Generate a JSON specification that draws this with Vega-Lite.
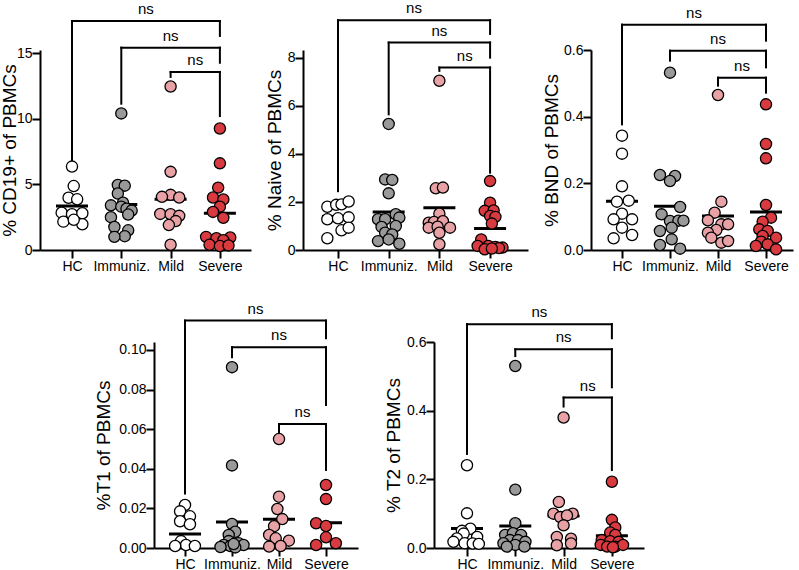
{
"$schema": "https://vega.github.io/schema/vega-lite/v6.json",
"padding": {"left": 0, "top": 1, "right": 5, "bottom": 5},
"config": {
  "font": "Liberation Sans",
  "view": {"stroke": null},
  "axis": {"domainColor": "black", "domainWidth": 2, "tickColor": "black", "tickWidth": 2, "tickSize": 8, "labelFontSize": 14, "labelColor": "black", "labelPadding": 0, "titleFontSize": 19, "titleFontWeight": "normal", "titleColor": "black", "grid": false, "labelFont": "Liberation Sans", "titleFont": "Liberation Sans"}
},
"datasets": {
"pts": [
{"p":"CD19","g":"HC","v":6.35,"s":0},{"p":"CD19","g":"HC","v":4.87,"s":0.5},{"p":"CD19","g":"HC","v":3.98,"s":-1},{"p":"CD19","g":"HC","v":3.86,"s":1.5},{"p":"CD19","g":"HC","v":2.84,"s":-3},{"p":"CD19","g":"HC","v":2.72,"s":0},{"p":"CD19","g":"HC","v":2.8,"s":3},{"p":"CD19","g":"HC","v":2.16,"s":-2.5},{"p":"CD19","g":"HC","v":1.96,"s":3},{"p":"CD19","g":"HC","v":2.3,"s":0.5},
{"p":"CD19","g":"Immuniz.","v":10.4,"s":0},{"p":"CD19","g":"Immuniz.","v":4.95,"s":-1},{"p":"CD19","g":"Immuniz.","v":4.9,"s":1},{"p":"CD19","g":"Immuniz.","v":4.3,"s":-1},{"p":"CD19","g":"Immuniz.","v":3.6,"s":0.5},{"p":"CD19","g":"Immuniz.","v":3.4,"s":-3},{"p":"CD19","g":"Immuniz.","v":3.3,"s":0},{"p":"CD19","g":"Immuniz.","v":3.15,"s":1.5},{"p":"CD19","g":"Immuniz.","v":3.0,"s":3},{"p":"CD19","g":"Immuniz.","v":2.7,"s":2},{"p":"CD19","g":"Immuniz.","v":2.5,"s":-3},{"p":"CD19","g":"Immuniz.","v":1.75,"s":-2},{"p":"CD19","g":"Immuniz.","v":1.5,"s":2},{"p":"CD19","g":"Immuniz.","v":1.05,"s":1},{"p":"CD19","g":"Immuniz.","v":1.0,"s":-2},
{"p":"CD19","g":"Mild","v":12.45,"s":0},{"p":"CD19","g":"Mild","v":5.95,"s":0},{"p":"CD19","g":"Mild","v":4.2,"s":0},{"p":"CD19","g":"Mild","v":4.05,"s":-2.5},{"p":"CD19","g":"Mild","v":4.0,"s":2.5},{"p":"CD19","g":"Mild","v":2.75,"s":-3},{"p":"CD19","g":"Mild","v":2.72,"s":0},{"p":"CD19","g":"Mild","v":2.6,"s":2.5},{"p":"CD19","g":"Mild","v":2.2,"s":1.5},{"p":"CD19","g":"Mild","v":1.9,"s":-0.5},{"p":"CD19","g":"Mild","v":0.4,"s":0},
{"p":"CD19","g":"Severe","v":9.25,"s":0},{"p":"CD19","g":"Severe","v":6.6,"s":0},{"p":"CD19","g":"Severe","v":4.75,"s":-0.5},{"p":"CD19","g":"Severe","v":4.0,"s":-2},{"p":"CD19","g":"Severe","v":3.85,"s":1},{"p":"CD19","g":"Severe","v":3.3,"s":0},{"p":"CD19","g":"Severe","v":2.9,"s":-2},{"p":"CD19","g":"Severe","v":2.45,"s":1},{"p":"CD19","g":"Severe","v":1.0,"s":-4},{"p":"CD19","g":"Severe","v":0.95,"s":3},{"p":"CD19","g":"Severe","v":0.9,"s":-1},{"p":"CD19","g":"Severe","v":0.75,"s":1},{"p":"CD19","g":"Severe","v":0.4,"s":-3},{"p":"CD19","g":"Severe","v":0.3,"s":0},{"p":"CD19","g":"Severe","v":0.35,"s":2.5},
{"p":"Naive","g":"HC","v":1.8,"s":-3},{"p":"Naive","g":"HC","v":1.88,"s":-0.5},{"p":"Naive","g":"HC","v":1.9,"s":1},{"p":"Naive","g":"HC","v":2.02,"s":3},{"p":"Naive","g":"HC","v":1.28,"s":-3},{"p":"Naive","g":"HC","v":1.32,"s":0},{"p":"Naive","g":"HC","v":1.36,"s":3},{"p":"Naive","g":"HC","v":0.82,"s":1},{"p":"Naive","g":"HC","v":0.93,"s":3},{"p":"Naive","g":"HC","v":0.49,"s":-3},
{"p":"Naive","g":"Immuniz.","v":5.25,"s":0},{"p":"Naive","g":"Immuniz.","v":2.94,"s":-1},{"p":"Naive","g":"Immuniz.","v":2.92,"s":1},{"p":"Naive","g":"Immuniz.","v":2.36,"s":0},{"p":"Naive","g":"Immuniz.","v":1.49,"s":2},{"p":"Naive","g":"Immuniz.","v":1.28,"s":-3},{"p":"Naive","g":"Immuniz.","v":1.28,"s":-1},{"p":"Naive","g":"Immuniz.","v":1.35,"s":3},{"p":"Naive","g":"Immuniz.","v":0.96,"s":-2},{"p":"Naive","g":"Immuniz.","v":1.0,"s":2},{"p":"Naive","g":"Immuniz.","v":0.72,"s":-1},{"p":"Naive","g":"Immuniz.","v":0.65,"s":1},{"p":"Naive","g":"Immuniz.","v":0.37,"s":-3},{"p":"Naive","g":"Immuniz.","v":0.44,"s":0},{"p":"Naive","g":"Immuniz.","v":0.26,"s":3},
{"p":"Naive","g":"Mild","v":7.05,"s":0},{"p":"Naive","g":"Mild","v":2.57,"s":-1},{"p":"Naive","g":"Mild","v":2.6,"s":1},{"p":"Naive","g":"Mild","v":1.51,"s":0},{"p":"Naive","g":"Mild","v":1.14,"s":-3},{"p":"Naive","g":"Mild","v":1.17,"s":-1.5},{"p":"Naive","g":"Mild","v":1.2,"s":1},{"p":"Naive","g":"Mild","v":0.93,"s":-3},{"p":"Naive","g":"Mild","v":0.97,"s":-0.5},{"p":"Naive","g":"Mild","v":0.93,"s":3},{"p":"Naive","g":"Mild","v":0.72,"s":0},{"p":"Naive","g":"Mild","v":0.24,"s":0},
{"p":"Naive","g":"Severe","v":2.87,"s":0},{"p":"Naive","g":"Severe","v":1.97,"s":0},{"p":"Naive","g":"Severe","v":1.63,"s":-1.5},{"p":"Naive","g":"Severe","v":1.65,"s":1},{"p":"Naive","g":"Severe","v":1.42,"s":0},{"p":"Naive","g":"Severe","v":1.38,"s":1.5},{"p":"Naive","g":"Severe","v":1.1,"s":0.5},{"p":"Naive","g":"Severe","v":0.44,"s":-2.5},{"p":"Naive","g":"Severe","v":0.17,"s":-3.5},{"p":"Naive","g":"Severe","v":0.17,"s":-0.5},{"p":"Naive","g":"Severe","v":0.13,"s":1.5},{"p":"Naive","g":"Severe","v":0.1,"s":3.5},{"p":"Naive","g":"Severe","v":0.03,"s":-1.5},{"p":"Naive","g":"Severe","v":0.08,"s":2.5},{"p":"Naive","g":"Severe","v":0.06,"s":0.5},
{"p":"BND","g":"HC","v":0.343,"s":0},{"p":"BND","g":"HC","v":0.289,"s":0},{"p":"BND","g":"HC","v":0.191,"s":0},{"p":"BND","g":"HC","v":0.145,"s":-1.5},{"p":"BND","g":"HC","v":0.148,"s":2},{"p":"BND","g":"HC","v":0.109,"s":0},{"p":"BND","g":"HC","v":0.092,"s":-2.5},{"p":"BND","g":"HC","v":0.092,"s":3},{"p":"BND","g":"HC","v":0.067,"s":0},{"p":"BND","g":"HC","v":0.035,"s":-2.5},{"p":"BND","g":"HC","v":0.045,"s":3},
{"p":"BND","g":"Immuniz.","v":0.532,"s":0},{"p":"BND","g":"Immuniz.","v":0.225,"s":-3},{"p":"BND","g":"Immuniz.","v":0.222,"s":1.5},{"p":"BND","g":"Immuniz.","v":0.207,"s":0},{"p":"BND","g":"Immuniz.","v":0.129,"s":3},{"p":"BND","g":"Immuniz.","v":0.107,"s":-2.5},{"p":"BND","g":"Immuniz.","v":0.087,"s":0},{"p":"BND","g":"Immuniz.","v":0.088,"s":2.5},{"p":"BND","g":"Immuniz.","v":0.088,"s":4},{"p":"BND","g":"Immuniz.","v":0.057,"s":-3},{"p":"BND","g":"Immuniz.","v":0.067,"s":0.5},{"p":"BND","g":"Immuniz.","v":0.032,"s":0.5},{"p":"BND","g":"Immuniz.","v":0.015,"s":-3},{"p":"BND","g":"Immuniz.","v":0.004,"s":3},
{"p":"BND","g":"Mild","v":0.465,"s":0},{"p":"BND","g":"Mild","v":0.145,"s":1},{"p":"BND","g":"Mild","v":0.112,"s":-1},{"p":"BND","g":"Mild","v":0.089,"s":-3},{"p":"BND","g":"Mild","v":0.077,"s":1},{"p":"BND","g":"Mild","v":0.077,"s":3},{"p":"BND","g":"Mild","v":0.06,"s":-0.5},{"p":"BND","g":"Mild","v":0.052,"s":-3},{"p":"BND","g":"Mild","v":0.037,"s":-2},{"p":"BND","g":"Mild","v":0.022,"s":1},{"p":"BND","g":"Mild","v":0.027,"s":3},
{"p":"BND","g":"Severe","v":0.437,"s":0},{"p":"BND","g":"Severe","v":0.318,"s":0},{"p":"BND","g":"Severe","v":0.275,"s":0},{"p":"BND","g":"Severe","v":0.135,"s":0},{"p":"BND","g":"Severe","v":0.097,"s":1.5},{"p":"BND","g":"Severe","v":0.085,"s":-1},{"p":"BND","g":"Severe","v":0.062,"s":-2},{"p":"BND","g":"Severe","v":0.057,"s":0.5},{"p":"BND","g":"Severe","v":0.042,"s":-1},{"p":"BND","g":"Severe","v":0.037,"s":3},{"p":"BND","g":"Severe","v":0.025,"s":-1.5},{"p":"BND","g":"Severe","v":0.012,"s":-3},{"p":"BND","g":"Severe","v":0.017,"s":0.5},{"p":"BND","g":"Severe","v":0.002,"s":3},
{"p":"T1","g":"HC","v":0.0217,"s":0},{"p":"T1","g":"HC","v":0.0185,"s":-1.5},{"p":"T1","g":"HC","v":0.016,"s":1.5},{"p":"T1","g":"HC","v":0.0135,"s":-1.5},{"p":"T1","g":"HC","v":0.012,"s":1.5},{"p":"T1","g":"HC","v":0.0035,"s":-1.2},{"p":"T1","g":"HC","v":0.0015,"s":0.3},{"p":"T1","g":"HC","v":0.001,"s":-3},{"p":"T1","g":"HC","v":0.001,"s":3},
{"p":"T1","g":"Immuniz.","v":0.0913,"s":0},{"p":"T1","g":"Immuniz.","v":0.0417,"s":0},{"p":"T1","g":"Immuniz.","v":0.0121,"s":0},{"p":"T1","g":"Immuniz.","v":0.0082,"s":1},{"p":"T1","g":"Immuniz.","v":0.0066,"s":-1},{"p":"T1","g":"Immuniz.","v":0.0035,"s":-1},{"p":"T1","g":"Immuniz.","v":0.0024,"s":2},{"p":"T1","g":"Immuniz.","v":0.0015,"s":-2.5},{"p":"T1","g":"Immuniz.","v":0.0015,"s":3.5},{"p":"T1","g":"Immuniz.","v":0.001,"s":-0.5},{"p":"T1","g":"Immuniz.","v":0.0005,"s":-3.5},{"p":"T1","g":"Immuniz.","v":0.0003,"s":1},{"p":"T1","g":"Immuniz.","v":0.002,"s":0.5},
{"p":"T1","g":"Mild","v":0.055,"s":0},{"p":"T1","g":"Mild","v":0.0259,"s":0},{"p":"T1","g":"Mild","v":0.0197,"s":-0.5},{"p":"T1","g":"Mild","v":0.0146,"s":1},{"p":"T1","g":"Mild","v":0.011,"s":-1.5},{"p":"T1","g":"Mild","v":0.0066,"s":-3},{"p":"T1","g":"Mild","v":0.0049,"s":-1},{"p":"T1","g":"Mild","v":0.0037,"s":3},{"p":"T1","g":"Mild","v":0.0007,"s":-3},{"p":"T1","g":"Mild","v":0.001,"s":0.5},
{"p":"T1","g":"Severe","v":0.0318,"s":0},{"p":"T1","g":"Severe","v":0.0247,"s":0},{"p":"T1","g":"Severe","v":0.0125,"s":-3},{"p":"T1","g":"Severe","v":0.0111,"s":0},{"p":"T1","g":"Severe","v":0.0054,"s":0},{"p":"T1","g":"Severe","v":0.0015,"s":-3},{"p":"T1","g":"Severe","v":0.0024,"s":3},
{"p":"T2","g":"HC","v":0.241,"s":0},{"p":"T2","g":"HC","v":0.101,"s":0},{"p":"T2","g":"HC","v":0.056,"s":1},{"p":"T2","g":"HC","v":0.05,"s":-1.5},{"p":"T2","g":"HC","v":0.042,"s":-1},{"p":"T2","g":"HC","v":0.032,"s":3},{"p":"T2","g":"HC","v":0.028,"s":-3},{"p":"T2","g":"HC","v":0.018,"s":-4},{"p":"T2","g":"HC","v":0.014,"s":-0.7},{"p":"T2","g":"HC","v":0.013,"s":1.7},{"p":"T2","g":"HC","v":0.012,"s":3.5},
{"p":"T2","g":"Immuniz.","v":0.53,"s":0},{"p":"T2","g":"Immuniz.","v":0.17,"s":0},{"p":"T2","g":"Immuniz.","v":0.072,"s":0},{"p":"T2","g":"Immuniz.","v":0.038,"s":-3},{"p":"T2","g":"Immuniz.","v":0.043,"s":-0.7},{"p":"T2","g":"Immuniz.","v":0.038,"s":1.7},{"p":"T2","g":"Immuniz.","v":0.023,"s":-1.6},{"p":"T2","g":"Immuniz.","v":0.023,"s":0.8},{"p":"T2","g":"Immuniz.","v":0.018,"s":3},{"p":"T2","g":"Immuniz.","v":0.014,"s":-3.5},{"p":"T2","g":"Immuniz.","v":0.009,"s":0},{"p":"T2","g":"Immuniz.","v":0.004,"s":2.7},{"p":"T2","g":"Immuniz.","v":0.004,"s":-2.5},
{"p":"T2","g":"Mild","v":0.38,"s":0},{"p":"T2","g":"Mild","v":0.134,"s":-1.4},{"p":"T2","g":"Mild","v":0.1,"s":-3},{"p":"T2","g":"Mild","v":0.1,"s":2.7},{"p":"T2","g":"Mild","v":0.09,"s":-1},{"p":"T2","g":"Mild","v":0.095,"s":1},{"p":"T2","g":"Mild","v":0.066,"s":0},{"p":"T2","g":"Mild","v":0.032,"s":-2},{"p":"T2","g":"Mild","v":0.027,"s":2.2},{"p":"T2","g":"Mild","v":0.008,"s":-2},{"p":"T2","g":"Mild","v":0.013,"s":2.2},
{"p":"T2","g":"Severe","v":0.193,"s":0},{"p":"T2","g":"Severe","v":0.082,"s":0},{"p":"T2","g":"Severe","v":0.06,"s":1},{"p":"T2","g":"Severe","v":0.045,"s":-0.5},{"p":"T2","g":"Severe","v":0.038,"s":1},{"p":"T2","g":"Severe","v":0.023,"s":-3},{"p":"T2","g":"Severe","v":0.02,"s":-0.5},{"p":"T2","g":"Severe","v":0.018,"s":2},{"p":"T2","g":"Severe","v":0.009,"s":-3.3},{"p":"T2","g":"Severe","v":0.004,"s":-1.4},{"p":"T2","g":"Severe","v":0.004,"s":1},{"p":"T2","g":"Severe","v":0.009,"s":3.3},{"p":"T2","g":"Severe","v":0.002,"s":0.3}
],
"mn": [
{"p":"CD19","g":"HC","m":3.35},{"p":"CD19","g":"Immuniz.","m":3.46},{"p":"CD19","g":"Mild","m":3.87},{"p":"CD19","g":"Severe","m":2.79},
{"p":"Naive","g":"HC","m":1.4},{"p":"Naive","g":"Immuniz.","m":1.58},{"p":"Naive","g":"Mild","m":1.76},{"p":"Naive","g":"Severe","m":0.9},
{"p":"BND","g":"HC","m":0.146},{"p":"BND","g":"Immuniz.","m":0.131},{"p":"BND","g":"Mild","m":0.102},{"p":"BND","g":"Severe","m":0.114},
{"p":"T1","g":"HC","m":0.0071},{"p":"T1","g":"Immuniz.","m":0.0131},{"p":"T1","g":"Mild","m":0.0145},{"p":"T1","g":"Severe","m":0.0128},
{"p":"T2","g":"HC","m":0.057},{"p":"T2","g":"Immuniz.","m":0.064},{"p":"T2","g":"Mild","m":0.093},{"p":"T2","g":"Severe","m":0.036}
],
"br": [
{"p":"CD19","a":"HC","b":"Severe","lv":17.44,"ea":6.55,"eb":16.3},{"p":"CD19","a":"Immuniz.","b":"Severe","lv":15.41,"ea":11.14,"eb":14.26},{"p":"CD19","a":"Mild","b":"Severe","lv":13.56,"ea":13.18,"eb":10.2},
{"p":"Naive","a":"HC","b":"Severe","lv":9.57,"ea":2.45,"eb":9.0},{"p":"Naive","a":"Immuniz.","b":"Severe","lv":8.64,"ea":5.65,"eb":8.01},{"p":"Naive","a":"Mild","b":"Severe","lv":7.6,"ea":7.46,"eb":3.22},
{"p":"BND","a":"HC","b":"Severe","lv":0.676,"ea":0.377,"eb":0.628},{"p":"BND","a":"Immuniz.","b":"Severe","lv":0.598,"ea":0.568,"eb":0.548},{"p":"BND","a":"Mild","b":"Severe","lv":0.517,"ea":0.493,"eb":0.472},
{"p":"T1","a":"HC","b":"Severe","lv":0.1148,"ea":0.0275,"eb":0.1059},{"p":"T1","a":"Immuniz.","b":"Severe","lv":0.1014,"ea":0.0963,"eb":0.0722},{"p":"T1","a":"Mild","b":"Severe","lv":0.0626,"ea":0.0576,"eb":0.0394},
{"p":"T2","a":"HC","b":"Severe","lv":0.652,"ea":0.274,"eb":0.611},{"p":"T2","a":"Immuniz.","b":"Severe","lv":0.579,"ea":0.559,"eb":0.468},{"p":"T2","a":"Mild","b":"Severe","lv":0.438,"ea":0.412,"eb":0.227}
]
},
"spacing": 28,
"vconcat": [
{"spacing": 14, "hconcat": [
{"width": 211, "height": 200, "layer": [
 {"data": {"name": "br"}, "transform": [{"filter": "datum.p=='CD19'"},{"calculate": "indexof(['HC','Immuniz.','Mild','Severe'],datum.a)+1","as": "xa"},{"calculate": "indexof(['HC','Immuniz.','Mild','Severe'],datum.b)+1","as": "xb"},{"calculate": "(datum.xa+datum.xb)/2","as": "xm"}],
  "layer": [
   {"mark": {"type": "rule","color": "black","strokeWidth": 2,"strokeCap": "square"},"encoding": {"x": {"field": "xa","type": "quantitative"},"x2": {"field": "xb"},"y": {"field": "lv","type": "quantitative"}}},
   {"mark": {"type": "rule","color": "black","strokeWidth": 2,"strokeCap": "square"},"encoding": {"x": {"field": "xa","type": "quantitative"},"y": {"field": "lv","type": "quantitative"},"y2": {"field": "ea"}}},
   {"mark": {"type": "rule","color": "black","strokeWidth": 2,"strokeCap": "square"},"encoding": {"x": {"field": "xb","type": "quantitative"},"y": {"field": "lv","type": "quantitative"},"y2": {"field": "eb"}}},
   {"mark": {"type": "text","text": "ns","fontSize": 15,"dy": -12,"baseline": "middle","color": "black"},"encoding": {"x": {"field": "xm","type": "quantitative"},"y": {"field": "lv","type": "quantitative"}}}
  ]},
 {"data": {"name": "mn"}, "transform": [{"filter": "datum.p=='CD19'"},{"calculate": "indexof(['HC','Immuniz.','Mild','Severe'],datum.g)+1","as": "gx"}],
  "mark": {"type": "tick","orient": "horizontal","size": 32,"thickness": 3,"color": "black","opacity": 1},
  "encoding": {"x": {"field": "gx","type": "quantitative"},"y": {"field": "m","type": "quantitative"}}},
 {"data": {"name": "pts"}, "transform": [{"filter": "datum.p=='CD19'"},{"calculate": "indexof(['HC','Immuniz.','Mild','Severe'],datum.g)+1","as": "gx"},{"calculate": "datum.gx+datum.s*0.07","as": "px"}],
  "mark": {"type": "point","shape": "circle","filled": true,"size": 125,"stroke": "black","strokeWidth": 1.3,"opacity": 1},
  "encoding": {
   "x": {"field": "px","type": "quantitative","scale": {"domain": [0.351,4.631],"nice": false,"zero": false},"axis": {"values": [1,2,3,4],"labelExpr": "['','HC','Immuniz.','Mild','Severe'][datum.value]","title": null,"labelPadding": 1,"labelOverlap": false,"labelFlush": false}},
   "y": {"field": "v","type": "quantitative","scale": {"domain": [0,15.23],"nice": false},"axis": {"values": [0,5,10,15],"format": "d","title": "% CD19+ of PBMCs","titlePadding": -3}},
   "fill": {"field": "g","type": "nominal","scale": {"domain": ["HC","Immuniz.","Mild","Severe"],"range": ["#ffffff","#999999","#e8a1a5","#d93a3f"]},"legend": null}
  }}
]},
{"width": 225, "height": 200, "layer": [
 {"data": {"name": "br"}, "transform": [{"filter": "datum.p=='Naive'"},{"calculate": "indexof(['HC','Immuniz.','Mild','Severe'],datum.a)+1","as": "xa"},{"calculate": "indexof(['HC','Immuniz.','Mild','Severe'],datum.b)+1","as": "xb"},{"calculate": "(datum.xa+datum.xb)/2","as": "xm"}],
  "layer": [
   {"mark": {"type": "rule","color": "black","strokeWidth": 2,"strokeCap": "square"},"encoding": {"x": {"field": "xa","type": "quantitative"},"x2": {"field": "xb"},"y": {"field": "lv","type": "quantitative"}}},
   {"mark": {"type": "rule","color": "black","strokeWidth": 2,"strokeCap": "square"},"encoding": {"x": {"field": "xa","type": "quantitative"},"y": {"field": "lv","type": "quantitative"},"y2": {"field": "ea"}}},
   {"mark": {"type": "rule","color": "black","strokeWidth": 2,"strokeCap": "square"},"encoding": {"x": {"field": "xb","type": "quantitative"},"y": {"field": "lv","type": "quantitative"},"y2": {"field": "eb"}}},
   {"mark": {"type": "text","text": "ns","fontSize": 15,"dy": -12,"baseline": "middle","color": "black"},"encoding": {"x": {"field": "xm","type": "quantitative"},"y": {"field": "lv","type": "quantitative"}}}
  ]},
 {"data": {"name": "mn"}, "transform": [{"filter": "datum.p=='Naive'"},{"calculate": "indexof(['HC','Immuniz.','Mild','Severe'],datum.g)+1","as": "gx"}],
  "mark": {"type": "tick","orient": "horizontal","size": 32,"thickness": 3,"color": "black","opacity": 1},
  "encoding": {"x": {"field": "gx","type": "quantitative"},"y": {"field": "m","type": "quantitative"}}},
 {"data": {"name": "pts"}, "transform": [{"filter": "datum.p=='Naive'"},{"calculate": "indexof(['HC','Immuniz.','Mild','Severe'],datum.g)+1","as": "gx"},{"calculate": "datum.gx+datum.s*0.07","as": "px"}],
  "mark": {"type": "point","shape": "circle","filled": true,"size": 125,"stroke": "black","strokeWidth": 1.3,"opacity": 1},
  "encoding": {
   "x": {"field": "px","type": "quantitative","scale": {"domain": [0.31,4.748],"nice": false,"zero": false},"axis": {"values": [1,2,3,4],"labelExpr": "['','HC','Immuniz.','Mild','Severe'][datum.value]","title": null,"labelPadding": 1,"labelOverlap": false,"labelFlush": false}},
   "y": {"field": "v","type": "quantitative","scale": {"domain": [0,8.33],"nice": false},"axis": {"values": [0,2,4,6,8],"format": "d","title": "% Naive of PBMCs","titlePadding": 3}},
   "fill": {"field": "g","type": "nominal","scale": {"domain": ["HC","Immuniz.","Mild","Severe"],"range": ["#ffffff","#999999","#e8a1a5","#d93a3f"]},"legend": null}
  }}
]},
{"width": 202, "height": 200, "layer": [
 {"data": {"name": "br"}, "transform": [{"filter": "datum.p=='BND'"},{"calculate": "indexof(['HC','Immuniz.','Mild','Severe'],datum.a)+1","as": "xa"},{"calculate": "indexof(['HC','Immuniz.','Mild','Severe'],datum.b)+1","as": "xb"},{"calculate": "(datum.xa+datum.xb)/2","as": "xm"}],
  "layer": [
   {"mark": {"type": "rule","color": "black","strokeWidth": 2,"strokeCap": "square"},"encoding": {"x": {"field": "xa","type": "quantitative"},"x2": {"field": "xb"},"y": {"field": "lv","type": "quantitative"}}},
   {"mark": {"type": "rule","color": "black","strokeWidth": 2,"strokeCap": "square"},"encoding": {"x": {"field": "xa","type": "quantitative"},"y": {"field": "lv","type": "quantitative"},"y2": {"field": "ea"}}},
   {"mark": {"type": "rule","color": "black","strokeWidth": 2,"strokeCap": "square"},"encoding": {"x": {"field": "xb","type": "quantitative"},"y": {"field": "lv","type": "quantitative"},"y2": {"field": "eb"}}},
   {"mark": {"type": "text","text": "ns","fontSize": 15,"dy": -12,"baseline": "middle","color": "black"},"encoding": {"x": {"field": "xm","type": "quantitative"},"y": {"field": "lv","type": "quantitative"}}}
  ]},
 {"data": {"name": "mn"}, "transform": [{"filter": "datum.p=='BND'"},{"calculate": "indexof(['HC','Immuniz.','Mild','Severe'],datum.g)+1","as": "gx"}],
  "mark": {"type": "tick","orient": "horizontal","size": 32,"thickness": 3,"color": "black","opacity": 1},
  "encoding": {"x": {"field": "gx","type": "quantitative"},"y": {"field": "m","type": "quantitative"}}},
 {"data": {"name": "pts"}, "transform": [{"filter": "datum.p=='BND'"},{"calculate": "indexof(['HC','Immuniz.','Mild','Severe'],datum.g)+1","as": "gx"},{"calculate": "datum.gx+datum.s*0.07","as": "px"}],
  "mark": {"type": "point","shape": "circle","filled": true,"size": 125,"stroke": "black","strokeWidth": 1.3,"opacity": 1},
  "encoding": {
   "x": {"field": "px","type": "quantitative","scale": {"domain": [0.354,4.5625],"nice": false,"zero": false},"axis": {"values": [1,2,3,4],"labelExpr": "['','HC','Immuniz.','Mild','Severe'][datum.value]","title": null,"labelPadding": 1,"labelOverlap": false,"labelFlush": false}},
   "y": {"field": "v","type": "quantitative","scale": {"domain": [0,0.6],"nice": false},"axis": {"values": [0,0.2,0.4,0.6],"format": ".1f","title": "% BND of PBMCs","titlePadding": 2.5}},
   "fill": {"field": "g","type": "nominal","scale": {"domain": ["HC","Immuniz.","Mild","Severe"],"range": ["#ffffff","#999999","#e8a1a5","#d93a3f"]},"legend": null}
  }}
]}
]},
{"spacing": 26, "hconcat": [
{"width": 28, "height": 206, "data": {"values": [{}]}, "mark": {"type": "point","opacity": 0}, "encoding": {}},
{"width": 204, "height": 206, "layer": [
 {"data": {"name": "br"}, "transform": [{"filter": "datum.p=='T1'"},{"calculate": "indexof(['HC','Immuniz.','Mild','Severe'],datum.a)+1","as": "xa"},{"calculate": "indexof(['HC','Immuniz.','Mild','Severe'],datum.b)+1","as": "xb"},{"calculate": "(datum.xa+datum.xb)/2","as": "xm"}],
  "layer": [
   {"mark": {"type": "rule","color": "black","strokeWidth": 2,"strokeCap": "square"},"encoding": {"x": {"field": "xa","type": "quantitative"},"x2": {"field": "xb"},"y": {"field": "lv","type": "quantitative"}}},
   {"mark": {"type": "rule","color": "black","strokeWidth": 2,"strokeCap": "square"},"encoding": {"x": {"field": "xa","type": "quantitative"},"y": {"field": "lv","type": "quantitative"},"y2": {"field": "ea"}}},
   {"mark": {"type": "rule","color": "black","strokeWidth": 2,"strokeCap": "square"},"encoding": {"x": {"field": "xb","type": "quantitative"},"y": {"field": "lv","type": "quantitative"},"y2": {"field": "eb"}}},
   {"mark": {"type": "text","text": "ns","fontSize": 15,"dy": -12,"baseline": "middle","color": "black"},"encoding": {"x": {"field": "xm","type": "quantitative"},"y": {"field": "lv","type": "quantitative"}}}
  ]},
 {"data": {"name": "mn"}, "transform": [{"filter": "datum.p=='T1'"},{"calculate": "indexof(['HC','Immuniz.','Mild','Severe'],datum.g)+1","as": "gx"}],
  "mark": {"type": "tick","orient": "horizontal","size": 32,"thickness": 3,"color": "black","opacity": 1},
  "encoding": {"x": {"field": "gx","type": "quantitative"},"y": {"field": "m","type": "quantitative"}}},
 {"data": {"name": "pts"}, "transform": [{"filter": "datum.p=='T1'"},{"calculate": "indexof(['HC','Immuniz.','Mild','Severe'],datum.g)+1","as": "gx"},{"calculate": "datum.gx+datum.s*0.07","as": "px"}],
  "mark": {"type": "point","shape": "circle","filled": true,"size": 125,"stroke": "black","strokeWidth": 1.3,"opacity": 1},
  "encoding": {
   "x": {"field": "px","type": "quantitative","scale": {"domain": [0.34,4.681],"nice": false,"zero": false},"axis": {"values": [1,2,3,4],"labelExpr": "['','HC','Immuniz.','Mild','Severe'][datum.value]","title": null,"labelPadding": 1,"labelOverlap": false,"labelFlush": false}},
   "y": {"field": "v","type": "quantitative","scale": {"domain": [0,0.104],"nice": false},"axis": {"values": [0,0.02,0.04,0.06,0.08,0.1],"format": ".2f","title": "%T1 of PBMCs","titlePadding": 5}},
   "fill": {"field": "g","type": "nominal","scale": {"domain": ["HC","Immuniz.","Mild","Severe"],"range": ["#ffffff","#999999","#e8a1a5","#d93a3f"]},"legend": null}
  }}
]},
{"width": 210, "height": 206, "layer": [
 {"data": {"name": "br"}, "transform": [{"filter": "datum.p=='T2'"},{"calculate": "indexof(['HC','Immuniz.','Mild','Severe'],datum.a)+1","as": "xa"},{"calculate": "indexof(['HC','Immuniz.','Mild','Severe'],datum.b)+1","as": "xb"},{"calculate": "(datum.xa+datum.xb)/2","as": "xm"}],
  "layer": [
   {"mark": {"type": "rule","color": "black","strokeWidth": 2,"strokeCap": "square"},"encoding": {"x": {"field": "xa","type": "quantitative"},"x2": {"field": "xb"},"y": {"field": "lv","type": "quantitative"}}},
   {"mark": {"type": "rule","color": "black","strokeWidth": 2,"strokeCap": "square"},"encoding": {"x": {"field": "xa","type": "quantitative"},"y": {"field": "lv","type": "quantitative"},"y2": {"field": "ea"}}},
   {"mark": {"type": "rule","color": "black","strokeWidth": 2,"strokeCap": "square"},"encoding": {"x": {"field": "xb","type": "quantitative"},"y": {"field": "lv","type": "quantitative"},"y2": {"field": "eb"}}},
   {"mark": {"type": "text","text": "ns","fontSize": 15,"dy": -12,"baseline": "middle","color": "black"},"encoding": {"x": {"field": "xm","type": "quantitative"},"y": {"field": "lv","type": "quantitative"}}}
  ]},
 {"data": {"name": "mn"}, "transform": [{"filter": "datum.p=='T2'"},{"calculate": "indexof(['HC','Immuniz.','Mild','Severe'],datum.g)+1","as": "gx"}],
  "mark": {"type": "tick","orient": "horizontal","size": 32,"thickness": 3,"color": "black","opacity": 1},
  "encoding": {"x": {"field": "gx","type": "quantitative"},"y": {"field": "m","type": "quantitative"}}},
 {"data": {"name": "pts"}, "transform": [{"filter": "datum.p=='T2'"},{"calculate": "indexof(['HC','Immuniz.','Mild','Severe'],datum.g)+1","as": "gx"},{"calculate": "datum.gx+datum.s*0.07","as": "px"}],
  "mark": {"type": "point","shape": "circle","filled": true,"size": 125,"stroke": "black","strokeWidth": 1.3,"opacity": 1},
  "encoding": {
   "x": {"field": "px","type": "quantitative","scale": {"domain": [0.317,4.665],"nice": false,"zero": false},"axis": {"values": [1,2,3,4],"labelExpr": "['','HC','Immuniz.','Mild','Severe'][datum.value]","title": null,"labelPadding": 1,"labelOverlap": false,"labelFlush": false}},
   "y": {"field": "v","type": "quantitative","scale": {"domain": [0,0.6],"nice": false},"axis": {"values": [0,0.1,0.2,0.3,0.4,0.5,0.6],"format": ".1f","title": "% T2 of PBMCs","titlePadding": 3.5}},
   "fill": {"field": "g","type": "nominal","scale": {"domain": ["HC","Immuniz.","Mild","Severe"],"range": ["#ffffff","#999999","#e8a1a5","#d93a3f"]},"legend": null}
  }}
]}
]}
]
}
